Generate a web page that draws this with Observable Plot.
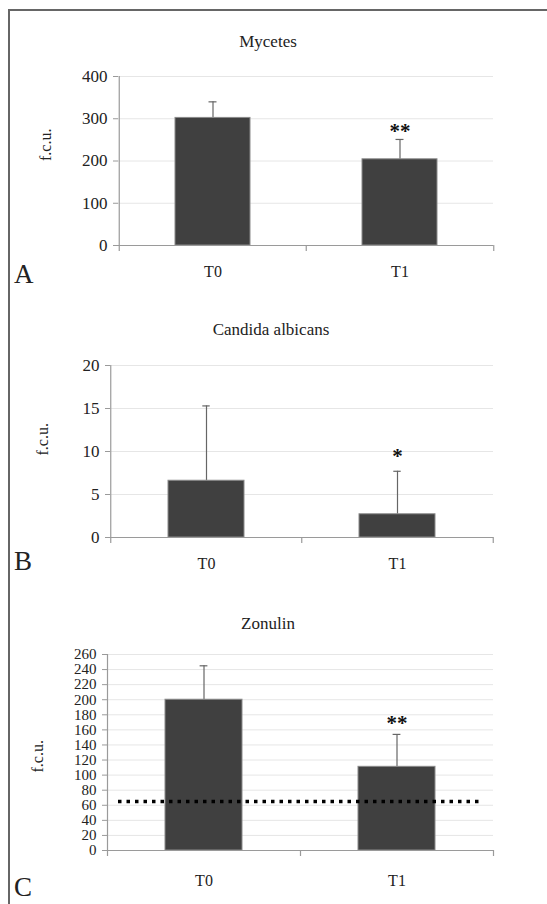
<!DOCTYPE html>
<html>
<head>
<meta charset="utf-8">
<script src="https://cdn.jsdelivr.net/npm/d3@7"></script>
<script src="https://cdn.jsdelivr.net/npm/@observablehq/plot@0.6"></script>
<style>
  html, body { margin: 0; padding: 0; background: #fff; }
  #wrap { position: relative; width: 547px; height: 904px; overflow: hidden; font-family: 'Liberation Serif', serif; color: #222; }
  #frame { position: absolute; left: 8px; top: 9px; right: -4px; bottom: -4px; border-top: 2px solid #666; border-left: 2px solid #666; }
  .panel { position: absolute; left: 0; }
  .panel text { font-family: 'Liberation Serif', serif; }
  .title { position: absolute; font-size: 17px; transform: translate(-50%, -50%); white-space: nowrap; }
  .letter { position: absolute; font-size: 27px; line-height: 1; }
</style>
</head>
<body>
<div id="wrap">
  <div id="frame"></div>
</div>
<script>
// ---- data ----
const categories = ["T0", "T1"];

const myceteTitle = "Mycetes";
const myceteMeans = [302, 204];
const myceteErrors = [38, 47];
const myceteStars = ["", "**"];
const myceteTicks = [0, 100, 200, 300, 400];

const candidaTitle = "Candida albicans";
const candidaMeans = [6.6, 2.7];
const candidaErrors = [8.7, 5.0];
const candidaStars = ["", "*"];
const candidaTicks = [0, 5, 10, 15, 20];

const zonulinTitle = "Zonulin";
const zonulinMeans = [200, 111];
const zonulinErrors = [45, 43];
const zonulinStars = ["", "**"];
const zonulinTicks = [0, 20, 40, 60, 80, 100, 120, 140, 160, 180, 200, 220, 240, 260];
const zonulinReference = [65];

const panelLetters = ["A", "B", "C"];
const yLabel = "f.c.u.";

// ---- drawing ----
const wrap = document.getElementById("wrap");
const FONT = "'Liberation Serif', serif";

function panel(cfg) {
  const rows = categories.map((c, i) => ({
    cat: c, mean: cfg.means[i], top: cfg.means[i] + cfg.errors[i], star: cfg.stars[i]
  }));
  const width = 547;
  const innerW = width - cfg.marginLeft - cfg.marginRight;
  const step = innerW / categories.length;
  const marks = [
    Plot.gridY(cfg.ticks, {stroke: "#e6e6e6", strokeOpacity: 1}),
    Plot.ruleX(rows, {x: "cat", y1: d => d.mean, y2: "top", stroke: "#666", strokeWidth: 1.2}),
    Plot.tickY(rows, {x: "cat", y: "top", stroke: "#666", strokeWidth: 1.2, insetLeft: (step * 0.4 - 8) / 2, insetRight: (step * 0.4 - 8) / 2}),
    Plot.barY(rows, {x: "cat", y: "mean", fill: "#404040", stroke: "#8a8a8a", strokeWidth: 1}),
  ];
  if (cfg.reference) {
    marks.push(Plot.ruleY(cfg.reference, {stroke: "#000", strokeWidth: 3.5, strokeDasharray: "3.5,5", insetLeft: cfg.refInsetLeft, insetRight: cfg.refInsetRight}));
  }
  marks.push(
    Plot.ruleY([0], {stroke: "#9a9a9a", strokeWidth: 1.2}),
    Plot.ruleX([categories[0]], {x: d => d, y1: cfg.ticks[cfg.ticks.length - 1], y2: 0, dx: -step / 2, stroke: "#9a9a9a", strokeWidth: 1.2, insetBottom: -6}),
    Plot.ruleX(categories.slice(1), {x: d => d, y1: 0, y2: 0, dx: -step / 2, stroke: "#9a9a9a", strokeWidth: 1.2, insetTop: 6}),
    Plot.ruleX(categories.slice(-1), {x: d => d, y1: 0, y2: 0, dx: step / 2, stroke: "#9a9a9a", strokeWidth: 1.2, insetTop: 6}),
    Plot.axisY({ticks: cfg.ticks, tickSize: 5, tickPadding: 6, fontSize: cfg.tickFont, fontFamily: FONT, label: null, stroke: "#9a9a9a", color: "#222"}),
    Plot.axisX({tickSize: 0, tickPadding: cfg.xPad, fontSize: 16, fontFamily: FONT, label: null, color: "#222"}),
    Plot.text(rows, {x: "cat", y: "top", text: "star", fontSize: 21, fontWeight: "bold", fontFamily: FONT, dy: cfg.starDy, fill: "#111"}),
    Plot.text([yLabel], {frameAnchor: "left", text: d => d, rotate: -90, dx: cfg.labelX - cfg.marginLeft, dy: cfg.labelDy, fontSize: 16, fontFamily: FONT, fill: "#222"})
  );
  const svg = Plot.plot({
    width,
    height: cfg.height,
    marginLeft: cfg.marginLeft,
    marginRight: cfg.marginRight,
    marginTop: cfg.marginTop,
    marginBottom: cfg.marginBottom,
    style: `font-family: ${FONT}; background: transparent; color: #222;`,
    x: {domain: categories, paddingInner: 0.6, paddingOuter: 0.3, axis: null},
    y: {domain: [0, cfg.ticks[cfg.ticks.length - 1]], axis: null},
    marks
  });
  svg.classList.add("panel");
  svg.style.top = cfg.top + "px";
  wrap.appendChild(svg);

  const t = document.createElement("div");
  t.className = "title";
  t.textContent = cfg.title;
  t.style.left = cfg.titleX + "px";
  t.style.top = cfg.titleY + "px";
  wrap.appendChild(t);

  const l = document.createElement("div");
  l.className = "letter";
  l.textContent = cfg.letter;
  l.style.left = "14px";
  l.style.top = cfg.letterY + "px";
  wrap.appendChild(l);
}

panel({
  title: myceteTitle, letter: panelLetters[0], means: myceteMeans, errors: myceteErrors, stars: myceteStars, ticks: myceteTicks,
  top: 56, height: 234, marginLeft: 118, marginRight: 54, marginTop: 20, marginBottom: 45,
  tickFont: 17, xPad: 20, starDy: -8, labelX: 45, labelDy: 0,
  titleX: 268, titleY: 42, letterY: 261
});
panel({
  title: candidaTitle, letter: panelLetters[1], means: candidaMeans, errors: candidaErrors, stars: candidaStars, ticks: candidaTicks,
  top: 345, height: 235, marginLeft: 110, marginRight: 54, marginTop: 20, marginBottom: 43,
  tickFont: 17, xPad: 20, starDy: -15, labelX: 42, labelDy: 4,
  titleX: 271, titleY: 330, letterY: 548
});
panel({
  title: zonulinTitle, letter: panelLetters[2], means: zonulinMeans, errors: zonulinErrors, stars: zonulinStars, ticks: zonulinTicks,
  reference: zonulinReference, refInsetLeft: 11, refInsetRight: 12,
  top: 634, height: 266, marginLeft: 107, marginRight: 54, marginTop: 20, marginBottom: 50,
  tickFont: 15, xPad: 24, starDy: -11, labelX: 37, labelDy: 20,
  titleX: 268, titleY: 624, letterY: 874
});
</script>
</body>
</html>
